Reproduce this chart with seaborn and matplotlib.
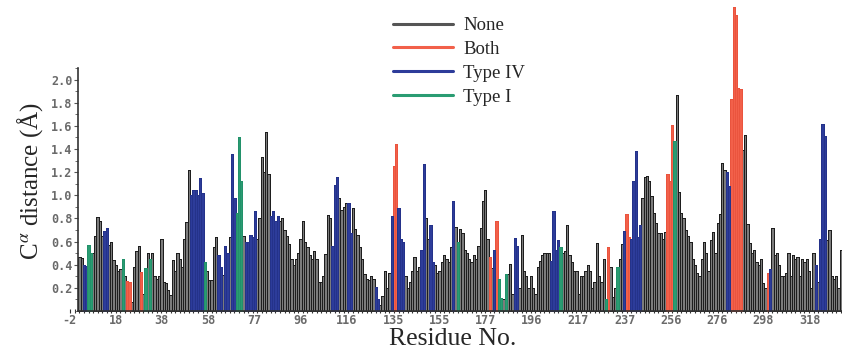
import numpy as np
import pandas as pd
import matplotlib
matplotlib.use("Agg")
import matplotlib.pyplot as plt
import seaborn as sns
from matplotlib.lines import Line2D
from matplotlib.ticker import MultipleLocator

# ---------------- data (20 residues per row) ----------------
values = [
    0.47, 0.46, 0.40, 0.39, 0.57, 0.50, 0.50, 0.65, 0.81, 0.78, 0.65, 0.69, 0.72, 0.57, 0.60, 0.44, 0.40, 0.35, 0.36, 0.45,
    0.30, 0.26, 0.25, 0.08, 0.38, 0.52, 0.56, 0.34, 0.15, 0.37, 0.50, 0.45, 0.50, 0.30, 0.28, 0.30, 0.62, 0.25, 0.24, 0.18,
    0.14, 0.44, 0.35, 0.50, 0.45, 0.38, 0.62, 0.77, 1.22, 1.00, 1.05, 1.05, 1.00, 1.15, 1.02, 0.42, 0.35, 0.27, 0.27, 0.55,
    0.64, 0.48, 0.38, 0.31, 0.56, 0.50, 0.64, 1.36, 0.98, 0.85, 1.50, 1.12, 0.65, 0.60, 0.60, 0.66, 0.64, 0.86, 0.62, 0.80,
    1.33, 1.20, 1.55, 1.18, 0.82, 0.86, 0.78, 0.82, 0.78, 0.80, 0.70, 0.65, 0.58, 0.45, 0.40, 0.45, 0.50, 0.62, 0.78, 0.60,
    0.55, 0.48, 0.45, 0.52, 0.45, 0.25, 0.25, 0.30, 0.49, 0.83, 0.80, 0.56, 1.09, 1.16, 0.98, 0.87, 0.90, 0.93, 0.93, 0.67,
    0.89, 0.71, 0.66, 0.55, 0.45, 0.32, 0.28, 0.27, 0.30, 0.28, 0.21, 0.10, 0.05, 0.13, 0.35, 0.20, 0.33, 0.82, 1.25, 1.44,
    0.89, 0.62, 0.60, 0.30, 0.20, 0.25, 0.35, 0.47, 0.35, 0.38, 0.53, 1.27, 0.80, 0.62, 0.74, 0.42, 0.40, 0.33, 0.35, 0.42,
    0.48, 0.45, 0.42, 0.55, 0.95, 0.73, 0.60, 0.71, 0.67, 0.53, 0.50, 0.45, 0.42, 0.48, 0.45, 0.56, 0.72, 0.95, 1.05, 0.62,
    0.47, 0.37, 0.53, 0.78, 0.28, 0.11, 0.10, 0.32, 0.32, 0.41, 0.15, 0.63, 0.56, 0.20, 0.66, 0.35, 0.30, 0.20, 0.30, 0.20,
    0.15, 0.38, 0.43, 0.48, 0.50, 0.50, 0.50, 0.43, 0.86, 0.53, 0.61, 0.55, 0.50, 0.52, 0.74, 0.48, 0.42, 0.35, 0.35, 0.15,
    0.30, 0.30, 0.35, 0.40, 0.35, 0.20, 0.25, 0.59, 0.30, 0.25, 0.45, 0.10, 0.55, 0.38, 0.12, 0.20, 0.38, 0.45, 0.58, 0.69,
    0.84, 0.64, 0.62, 1.12, 1.38, 0.64, 0.74, 0.98, 1.16, 1.17, 1.12, 0.99, 0.85, 0.76, 0.67, 0.67, 0.62, 0.68, 1.18, 1.12,
    1.61, 1.47, 1.87, 1.03, 0.85, 0.80, 0.70, 0.65, 0.60, 0.45, 0.40, 0.33, 0.30, 0.45, 0.60, 0.50, 0.35, 0.61, 0.68, 0.50,
    0.76, 0.84, 1.28, 1.22, 1.20, 1.08, 1.83, 2.63, 2.56, 1.93, 1.92, 1.39, 1.52, 0.75, 0.59, 0.50, 0.53, 0.42, 0.40, 0.45,
    0.24, 0.20, 0.33, 0.36, 0.72, 0.48, 0.50, 0.40, 0.30, 0.30, 0.33, 0.50, 0.30, 0.48, 0.45, 0.47, 0.30, 0.45, 0.42, 0.45,
    0.35, 0.20, 0.50, 0.40, 0.25, 0.62, 1.62, 1.51, 0.61, 0.70, 0.30, 0.28, 0.30, 0.20, 0.53,
]

# N = None, B = Both, 4 = Type IV, 1 = Type I  (same 20-per-row layout)
type_rows = [
    "NN4411NNNNN44NNNNNN1",
    "NBBNNNNBN1N1NNNNNNNN",
    "NNNNNNNNN4444441NNNN",
    "N44N44N44111N44444NN",
    "NNNN4444NNNNNNNNNNNN",
    "NNNNNNNNNNN444NNNN44",
    "NNNNNNNNNN44NNNNN4BB",
    "444NNNNNNN44NN44NNNN",
    "NNNN4N1NNNNNNNNNNNNN",
    "BN4B11N1NNN44NNNNNNN",
    "NNNNNNN44441NNNNNNNN",
    "NNNNNNNNNNN1BNNN1NN4",
    "BB44444NNNNNNNNNNNBB",
    "B1NNNNNNNNNNNNNNNNNN",
    "NNNN44BBBBBNNNNNNNNN",
    "NNB4NNNNNNNNNNNNNNNN",
    "NNN4N444NNNNNNN",
]
types = list("".join(type_rows))

type_names = {"N": "None", "B": "Both", "4": "Type IV", "1": "Type I"}
legend_order = ["None", "Both", "Type IV", "Type I"]
tick_labels = ["-2", "18", "38", "58", "77", "96", "116", "135", "155", "177",
               "196", "217", "237", "256", "276", "298", "318"]
y_ticks = [0.2, 0.4, 0.6, 0.8, 1.0, 1.2, 1.4, 1.6, 1.8, 2.0]

n = min(len(values), len(types))
values = values[:n]
types = types[:n]

# ---------------- style ----------------
sns.set_style("ticks")
plt.rcParams["font.family"] = ["Liberation Serif", "DejaVu Serif"]
plt.rcParams["mathtext.fontset"] = "stix"

fill = {"None": "#7c7c7c", "Both": "#f2604a", "Type IV": "#2d3c9a", "Type I": "#2a9c72"}
edge = {"None": "#1e1e1e", "Both": "#ea543e", "Type IV": "#24328a", "Type I": "#22916a"}
legend_col = {"None": "#555555", "Both": "#f2604a", "Type IV": "#2d3c9a", "Type I": "#2a9c72"}

df = pd.DataFrame({
    "pos": np.arange(n),
    "value": values,
    "type": [type_names[t] for t in types],
})

W, H = 842, 353
fig = plt.figure(figsize=(W / 100, H / 100), dpi=100)
x_left = -5.0
x_right = n - 0.5
ax_l_px, ax_r_px = 68, 842
y0_px, ytop_px = 311, 68
ax = fig.add_axes([ax_l_px / W, 1 - y0_px / H, (ax_r_px - ax_l_px) / W, (y0_px - ytop_px) / H])

sns.barplot(data=df, x="pos", y="value", hue="type", hue_order=legend_order,
            palette=fill, dodge=False, native_scale=True, width=1.0,
            errorbar=None, legend=False, saturation=1, ax=ax)

for p in ax.patches:
    fc = p.get_facecolor()
    key = "None"
    for k, c in fill.items():
        if np.allclose(matplotlib.colors.to_rgba(c), fc, atol=0.02):
            key = k
            break
    p.set_edgecolor(edge[key])
    p.set_linewidth(0.5 if key == "None" else 0.4)
    p.set_antialiased(False)
    p.set_clip_on(False)

ax.set_xlim(x_left, x_right)
ax.set_ylim(0, 2.1)

for s in ["top", "right"]:
    ax.spines[s].set_visible(False)
ax.spines["left"].set_position(("data", -0.5))
ax.spines["bottom"].set_bounds(-0.5, x_right)
for s in ["left", "bottom"]:
    ax.spines[s].set_color("#333333")
    ax.spines[s].set_linewidth(1.2)

tick_pos = np.linspace(-4.45, 320.35, len(tick_labels))
ax.set_xticks(tick_pos)
ax.set_xticklabels(tick_labels)
ax.xaxis.set_minor_locator(MultipleLocator(2))
ax.set_yticks(y_ticks)
ax.set_yticklabels([f"{v:.1f}" for v in y_ticks])
ax.yaxis.set_minor_locator(MultipleLocator(0.1))

for lab in ax.get_xticklabels() + ax.get_yticklabels():
    lab.set_fontfamily("DejaVu Sans Mono")
    lab.set_fontsize(8.5)
    lab.set_fontweight("bold")
    lab.set_color("#6a6a6a")
ax.tick_params(axis="x", which="major", length=0, pad=2)
ax.tick_params(axis="x", which="minor", length=2.5, width=0.8, color="#333333", direction="inout")
ax.tick_params(axis="y", which="major", length=3, width=0.8, color="#555555", pad=1)
ax.tick_params(axis="y", which="minor", length=2, width=0.6, color="#555555")
ax.set_xlabel("")
ax.set_ylabel("")

fig.text(453 / W, 1 - 339 / H, "Residue No.", ha="center", va="center", fontsize=18.5)
fig.text(30 / W, 1 - 181 / H, r"C$^{\alpha}$ distance (Å)", ha="center", va="center",
         rotation=90, fontsize=18)

handles = [Line2D([0], [0], color=legend_col[k], lw=2.2) for k in legend_order]
fig.legend(handles, legend_order, loc="upper left", bbox_to_anchor=(393 / W, 1 - 17 / H),
           frameon=False, fontsize=13.5, handlelength=3.2, handletextpad=0.55,
           labelspacing=0.36, borderpad=0, borderaxespad=0)

fig.savefig("out.png", dpi=100)
